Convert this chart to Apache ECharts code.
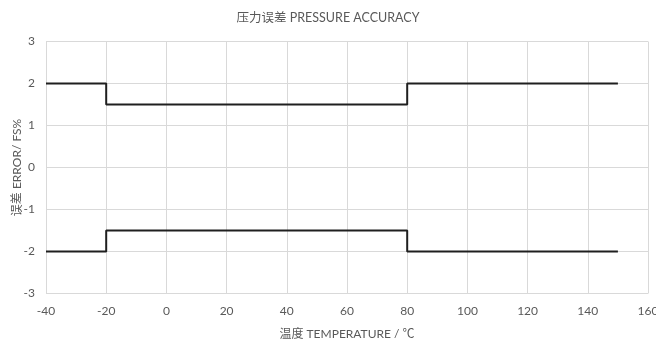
<!DOCTYPE html>
<html><head><meta charset="utf-8">
<script src="https://cdn.jsdelivr.net/npm/echarts@6/dist/echarts.min.js"></script>
<style>html,body{margin:0;padding:0;background:#fff}#c{width:656px;height:344px}</style>
</head><body><div id="c"></div>
<script>
var temps = [-40, -20, 80, 150];
var upperError = [2, 1.5, 2, 2];
var lowerError = [-2, -1.5, -2, -2];
var xTicks = [-40, -20, 0, 20, 40, 60, 80, 100, 120, 140, 160];
var yTicks = [-3, -2, -1, 0, 1, 2, 3];

var FONT = 'Lato, "Noto Sans CJK SC", sans-serif';
var chart = echarts.init(document.getElementById('c'), null, {renderer: 'canvas'});
function pts(vals){ return temps.map(function(t,i){ return [t, vals[i]]; }); }
var gridLine = {show: true, lineStyle: {color: '#d9d9d9', width: 1}};
chart.setOption({
  animation: false,
  title: {text: '压力误差 PRESSURE ACCURACY', left: 'center', top: 7,
    textStyle: {fontFamily: FONT, fontSize: 12.5, fontWeight: 'normal', color: '#595959'}},
  grid: {left: 46, right: 8, top: 41.5, bottom: 50.5, containLabel: false, outerBoundsMode: 'none'},
  xAxis: {type: 'value', min: xTicks[0], max: xTicks[xTicks.length-1], interval: 20,
    name: '温度 TEMPERATURE / ℃', nameLocation: 'middle', nameGap: 35, nameMoveOverlap: false,
    nameTextStyle: {fontFamily: FONT, fontSize: 12, color: '#595959'},
    axisLine: {show: false}, axisTick: {show: false},
    axisLabel: {fontFamily: FONT, fontSize: 12, color: '#595959', margin: 12},
    splitLine: gridLine},
  yAxis: {type: 'value', min: yTicks[0], max: yTicks[yTicks.length-1], interval: 1,
    name: '误差 ERROR/ FS%', nameLocation: 'middle', nameGap: 23, nameMoveOverlap: false,
    nameTextStyle: {fontFamily: FONT, fontSize: 12, color: '#595959'},
    axisLine: {show: false}, axisTick: {show: false},
    axisLabel: {fontFamily: FONT, fontSize: 12, color: '#595959', margin: 11},
    splitLine: gridLine},
  series: [
    {type: 'line', step: 'end', data: pts(upperError), symbol: 'none',
      lineStyle: {color: '#1f1f1f', width: 2}},
    {type: 'line', step: 'end', data: pts(lowerError), symbol: 'none',
      lineStyle: {color: '#1f1f1f', width: 2}}
  ]
});
</script></body></html>
